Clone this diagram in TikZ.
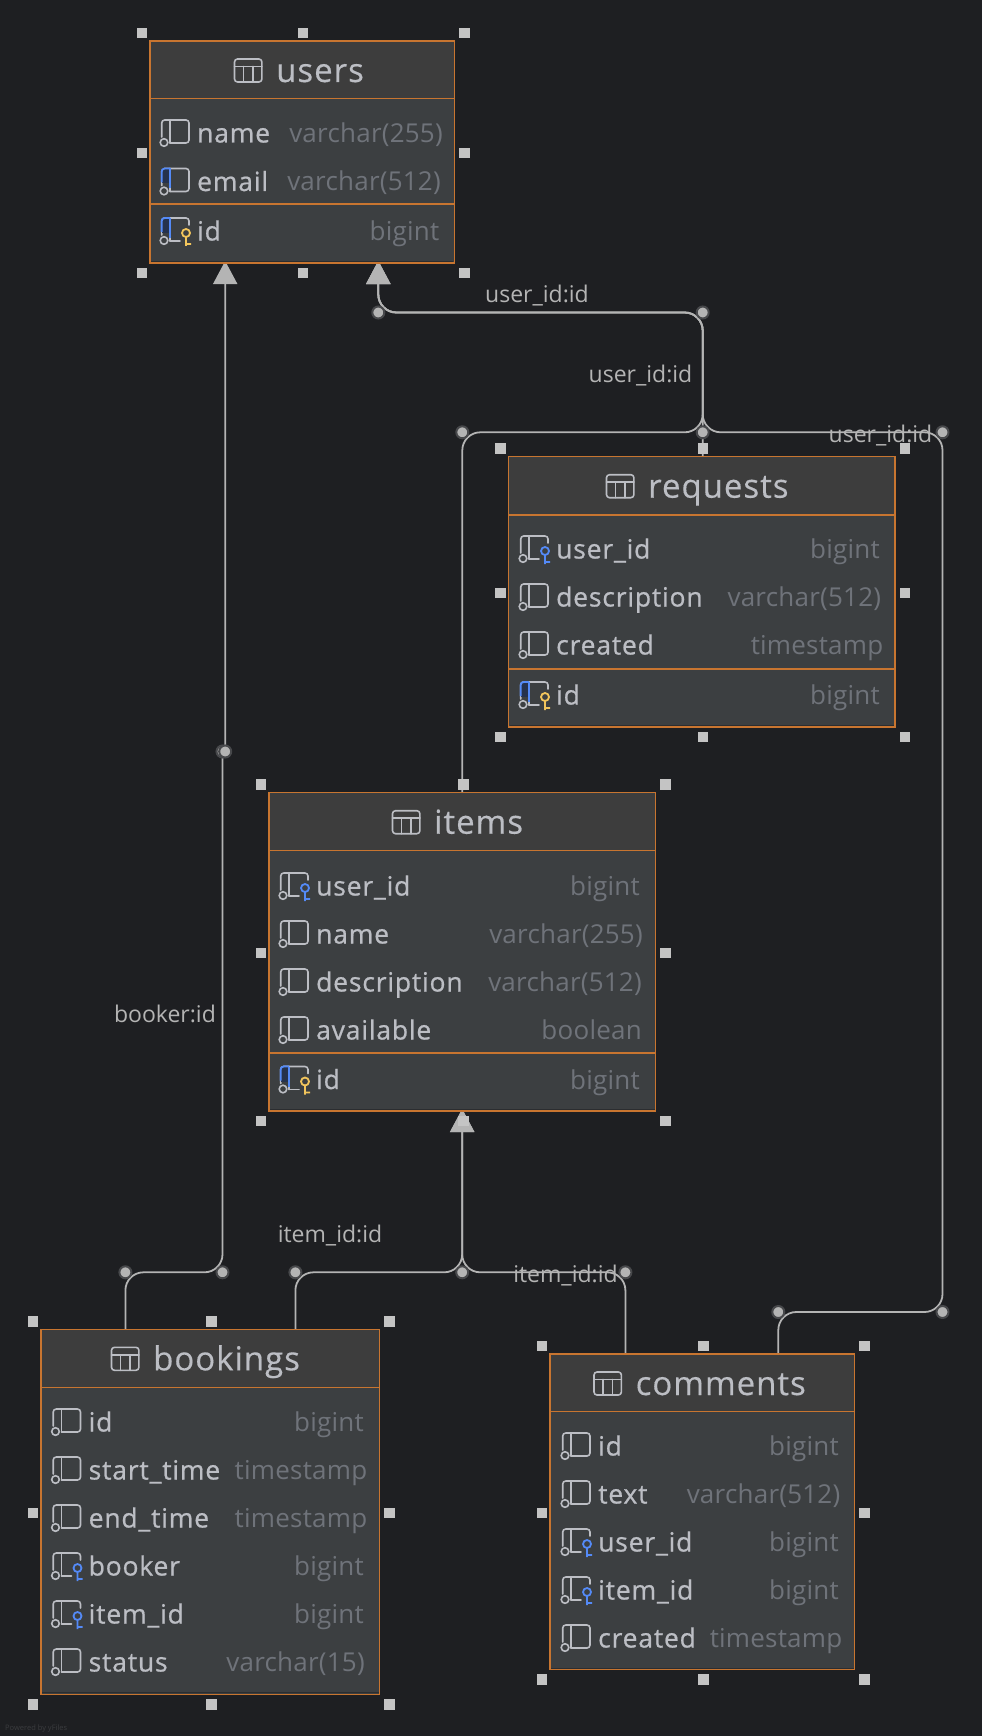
\documentclass[tikz,border=0pt]{standalone}
\usepackage{fontspec}
\setmainfont{Open Sans}
\newfontfamily\namefont[FakeBold=0.7,LetterSpace=3]{Open Sans}
\newfontfamily\titlefont[FakeBold=0.35,LetterSpace=3]{Open Sans}
\newfontfamily\typefont[LetterSpace=0.9]{Open Sans}
\usetikzlibrary{calc,arrows.meta}
\definecolor{canvas}{HTML}{1E1F22}
\definecolor{headfill}{HTML}{3D3D3D}
\definecolor{bodyfill}{HTML}{3C3F41}
\definecolor{edgeline}{HTML}{C87530}
\definecolor{txt}{HTML}{BCBEC4}
\definecolor{typetxt}{HTML}{6F737A}
\definecolor{conn}{HTML}{B4B4B4}
\definecolor{handle}{HTML}{C4C4C4}
\definecolor{ringc}{HTML}{47484B}
\definecolor{pkblue}{HTML}{548AF7}
\definecolor{pkdark}{HTML}{25324D}
\definecolor{keyyel}{HTML}{F2C55C}
\definecolor{botline}{HTML}{2B2D30}
\pgfdeclarelayer{bg}
\pgfsetlayers{bg,main}
\tikzset{
  tbl/.style={rectangle,draw=edgeline,line width=1.5pt,fill=bodyfill,inner sep=0pt,outer sep=0pt,anchor=north west},
  hnd/.style={rectangle,fill=handle,minimum size=10.5pt,inner sep=0pt,outer sep=0pt},
  dotn/.style={circle,fill=conn,draw=ringc,line width=2pt,minimum size=12pt,inner sep=0pt,outer sep=0pt},
  conline/.style={draw=conn,line width=1.8pt,rounded corners=18pt},
  tip/.style={-{Triangle[width=24pt,length=23pt,fill=conn]},shorten >=-2pt},
  titlet/.style={anchor=base west,inner sep=0pt,text=txt,font=\titlefont\fontsize{33}{33}\selectfont},
  namet/.style={anchor=base west,inner sep=0pt,text=txt,font=\namefont\fontsize{26.5}{26.5}\selectfont},
  typet/.style={anchor=base east,inner sep=0pt,text=typetxt,font=\typefont\fontsize{26}{26}\selectfont},
  elabel/.style={anchor=base,inner sep=0pt,text=conn,font=\fontsize{23}{23}\selectfont},
  ic/.style={draw=txt,line width=1.6pt,line cap=round,line join=round},
}
% table: name, left, top, right, bottom, header bottom, divider y (or 0), title x
\newcommand{\tablebox}[8]{%
  \node[tbl,minimum width={(#4-#2)*1pt},minimum height={(#5-#3)*1pt}] (#1) at (#2,#3) {};
  \fill[headfill] (#2+.8,#3+.8) rectangle (#4-.8,#6);
  \draw[edgeline,line width=1.5pt] (#2,#6) -- (#4,#6);
  \ifnum#7>0 \draw[edgeline,line width=1.5pt] (#2,#7) -- (#4,#7);\fi
  \draw[botline,line width=1pt] (#2+1,#5-1.5) -- (#4-1,#5-1.5);
  \node[titlet] (#1-title) at (#8,#3+41) {#1};
  \begin{scope}[shift={(#8-41.5,#3+29.5)}]
    \draw[ic,rounded corners=3pt] (0,-11.5) rectangle (27.4,11.5);
    \draw[ic] (0,-4) -- (27.4,-4) (9.1,-4) -- (9.1,11.5) (18.3,-4) -- (18.3,11.5);
  \end{scope}
}
\newcommand{\handles}[1]{%
  \node[hnd] (#1-nw) at ($(#1.north west)+(-8,-8)$) {};
  \node[hnd] (#1-ne) at ($(#1.north east)+(10,-8)$) {};
  \node[hnd] (#1-sw) at ($(#1.south west)+(-8,10)$) {};
  \node[hnd] (#1-se) at ($(#1.south east)+(10,10)$) {};
  \node[hnd] (#1-n) at ($(#1-nw)!.5!(#1-ne)$) {};
  \node[hnd] (#1-s) at ($(#1-sw)!.5!(#1-se)$) {};
  \node[hnd] (#1-w) at ($(#1-nw)!.5!(#1-sw)$) {};
  \node[hnd] (#1-e) at ($(#1-ne)!.5!(#1-se)$) {};
}
% icon parts, origin = (text x, row centre)
\newcommand{\iconbase}{%
  \draw[ic] (-27,-12) -- (-27,11);
  \draw[ic,rounded corners=3pt] (-35.3,5) -- (-35.3,-12) -- (-8,-12) -- (-8,11) -- (-27,11);
  \draw[ic] (-33,10.5) circle (3.8);
}
\newcommand{\iconkey}[1]{%
  \draw[ic] (-27,-12) -- (-27,11);
  \draw[ic,rounded corners=3pt] (-35.3,5) -- (-35.3,-12) -- (-8,-12) -- (-8,-5);
  \draw[ic] (-27,11) -- (-17,11);
  \draw[ic] (-33,10.5) circle (3.8);
  \draw[#1,line width=1.8pt] (-11,3) circle (4) (-11,7) -- (-11,16) (-11,14) -- (-6,14);
}
\newcommand{\pkmark}{%
  \fill[pkdark] (-35.3,-12) rectangle (-27,3);
  \draw[pkblue,line width=1.8pt,rounded corners=3pt] (-35.3,2) -- (-35.3,-12) -- (-27,-12);
  \draw[pkblue,line width=1.8pt] (-27,-12) -- (-27,8);
}
% row: id, text x, y, name, type right, type, kind (c p f k)
\newcommand{\rowitem}[7]{%
  \node[namet] (#1-n) at (#2,#3+10.5) {#4};
  \node[typet] (#1-t) at (#5,#3+10.5) {#6};
  \begin{scope}[shift={(#2,#3)}]
    \if#7c\iconbase\fi
    \if#7p\iconbase\pkmark\fi
    \if#7f\iconkey{pkblue}\fi
    \if#7k\pkmark\iconkey{keyyel}\pkmark\fi
  \end{scope}
}
\begin{document}
\begin{tikzpicture}[x=1pt,y=-1pt]
\begin{pgfonlayer}{bg}
\fill[canvas] (0,0) rectangle (982,1736);
\end{pgfonlayer}
\useasboundingbox (0,0) rectangle (982,1736);

\tablebox{users}{150}{41}{454.3}{263}{98.7}{204}{276}
\rowitem{u1}{197}{132}{name}{443}{varchar(255)}{c}
\rowitem{u2}{197}{180.5}{email}{441}{varchar(512)}{p}
\rowitem{u3}{197}{230}{id}{439.5}{bigint}{k}

\tablebox{requests}{508.7}{456.7}{895}{727}{515}{669}{648}
\rowitem{r1}{556}{548}{user\_id}{880}{bigint}{f}
\rowitem{r2}{556}{596}{description}{881.3}{varchar(512)}{c}
\rowitem{r3}{556}{644}{created}{883.5}{timestamp}{c}
\rowitem{r4}{556}{694}{id}{880}{bigint}{k}

\tablebox{items}{269}{792.7}{655.5}{1111}{850.5}{1053}{434}
\rowitem{i1}{316}{885}{user\_id}{640}{bigint}{f}
\rowitem{i2}{316}{933}{name}{643}{varchar(255)}{c}
\rowitem{i3}{316}{981}{description}{642}{varchar(512)}{c}
\rowitem{i4}{316}{1029}{available}{642}{boolean}{c}
\rowitem{i5}{316}{1078.5}{id}{640}{bigint}{k}

\tablebox{bookings}{41}{1329.3}{379.7}{1694.3}{1387.7}{0}{153}
\rowitem{b1}{88.5}{1421}{id}{364}{bigint}{c}
\rowitem{b2}{88.5}{1469}{start\_time}{367.5}{timestamp}{c}
\rowitem{b3}{88.5}{1517}{end\_time}{367.5}{timestamp}{c}
\rowitem{b4}{88.5}{1565}{booker}{364}{bigint}{f}
\rowitem{b5}{88.5}{1613}{item\_id}{364}{bigint}{f}
\rowitem{b6}{88.5}{1661}{status}{365}{varchar(15)}{c}

\tablebox{comments}{550}{1354}{854.7}{1669.5}{1411.5}{0}{635.5}
\rowitem{c1}{598}{1445}{id}{839}{bigint}{c}
\rowitem{c2}{598}{1493}{text}{840.5}{varchar(512)}{c}
\rowitem{c3}{598}{1541}{user\_id}{839}{bigint}{f}
\rowitem{c4}{598}{1589}{item\_id}{839}{bigint}{f}
\rowitem{c5}{598}{1637}{created}{842.5}{timestamp}{c}

\handles{users}\handles{requests}\handles{items}\handles{bookings}\handles{comments}

% bend points
\node[dotn] (d0) at (378.3,312.5) {};
\node[dotn] (d1) at (702.7,312.5) {};
\node[dotn] (d2) at (702.7,432.3) {};
\node[dotn] (d3) at (462.3,432.3) {};
\node[dotn] (d4) at (942.5,432.3) {};
\node[dotn] (d5) at (942.5,1312) {};
\node[dotn] (d6) at (778.3,1312) {};
\node[dotn] (e0) at (222.5,751.5) {};
\node[dotn] (e1) at (225.2,751.5) {};
\node[dotn] (e2) at (222.5,1272.3) {};
\node[dotn] (e3) at (125.4,1272.3) {};
\node[dotn] (f1) at (462.2,1272.3) {};
\node[dotn] (f2) at (295.4,1272.3) {};
\node[dotn] (f3) at (625.4,1272.3) {};
\coordinate (jogA) at (222.5,765);
\coordinate (jogB) at (225.2,733);

\begin{pgfonlayer}{bg}
\draw[conline,tip] (d2 |- requests.north) -- (d2.center) -- (d1.center) -- (d0.center) -- (d0 |- users.south);
\draw[conline,tip] (d3 |- items.north) -- (d3.center) -- (d2.center) -- (d1.center) -- (d0.center) -- (d0 |- users.south);
\draw[conline,tip] (d6 |- comments.north) -- (d6.center) -- (d5.center) -- (d4.center) -- (d2.center) -- (d1.center) -- (d0.center) -- (d0 |- users.south);
\draw[conline,tip] (e3 |- bookings.north) -- (e3.center) -- (e2.center) -- (jogA) .. controls (e0.center) and (e1.center) .. (jogB) -- (e1 |- users.south);
\draw[conline,tip] (f2 |- bookings.north) -- (f2.center) -- (f1.center) -- (f1 |- items.south);
\draw[conline,tip] (f3 |- comments.north) -- (f3.center) -- (f1.center) -- (f1 |- items.south);
\end{pgfonlayer}

\node[elabel] (l1) at (537,302.7) {user\_id:id};
\node[elabel] (l2) at (640.5,382.7) {user\_id:id};
\node[elabel] (l3) at (880.5,442.5) {user\_id:id};
\node[elabel] (l4) at (165,1022.5) {booker:id};
\node[elabel] (l5) at (330,1242.5) {item\_id:id};
\node[elabel] (l6) at (565.5,1282.2) {item\_id:id};
\node[anchor=base west,inner sep=0pt,text=ringc!70!canvas,font=\fontsize{7.5}{7.5}\selectfont] (pw) at (5,1730) {Powered by yFiles};
\end{tikzpicture}
\end{document}
